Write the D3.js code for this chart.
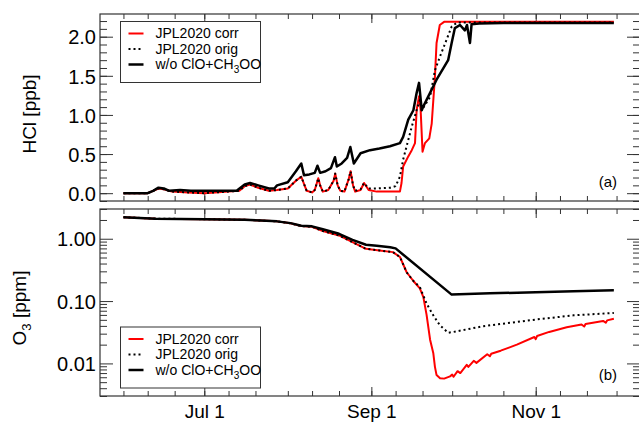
<!DOCTYPE html>
<html>
<head>
<meta charset="utf-8">
<script src="https://cdn.jsdelivr.net/npm/d3@7"></script>
<style>
  body { margin: 0; background: #fff; }
  svg { display: block; font-family: "Liberation Sans", Arial, Helvetica, sans-serif; }
</style>
</head>
<body>
<svg id="chart" width="639" height="422"></svg>
<script>
'use strict';

/* ── data ([month-day, value]) ──────────────────────────────────── */

// panel (a): HCl [ppb]
const hclCorr = [
  ['06-01', 0.00], ['06-10', 0.00], ['06-12', 0.03], ['06-14', 0.06], ['06-16', 0.05],
  ['06-19', 0.02], ['06-25', 0.01], ['07-01', 0.00], ['07-05', 0.01], ['07-10', 0.02],
  ['07-14', 0.03], ['07-16', 0.09], ['07-18', 0.11], ['07-21', 0.07], ['07-25', 0.03],
  ['07-28', 0.04], ['08-01', 0.06], ['08-04', 0.16], ['08-06', 0.21], ['08-07', 0.12],
  ['08-08', 0.03], ['08-10', 0.01], ['08-11', 0.04], ['08-12.3', 0.19], ['08-13', 0.10],
  ['08-14', 0.02], ['08-16', 0.04], ['08-18', 0.16], ['08-18.6', 0.25], ['08-19.5', 0.10],
  ['08-20.5', 0.03], ['08-22', 0.02], ['08-23.6', 0.18], ['08-24.3', 0.28], ['08-25.2', 0.10],
  ['08-26', 0.02], ['08-28', 0.04], ['08-29.3', 0.13], ['08-31', 0.04], ['09-03', 0.02],
  ['09-08', 0.02], ['09-11.6', 0.02], ['09-12.2', 0.13], ['09-12.8', 0.34], ['09-14.7', 0.47],
  ['09-16', 0.55], ['09-17.2', 0.64], ['09-17.8', 1.06], ['09-18.7', 1.24], ['09-19.3', 1.06],
  ['09-20', 0.53], ['09-20.9', 0.64], ['09-22.5', 0.70], ['09-23.4', 0.89], ['09-24.6', 1.49],
  ['09-25.2', 1.92], ['09-26.4', 2.15], ['09-28', 2.19], ['11-30', 2.19],
];
const hclOrig = [
  ['06-01', 0.00], ['06-10', 0.00], ['06-12', 0.03], ['06-14', 0.06], ['06-16', 0.05],
  ['06-19', 0.02], ['06-25', 0.01], ['07-01', 0.00], ['07-05', 0.01], ['07-10', 0.02],
  ['07-14', 0.03], ['07-16', 0.09], ['07-18', 0.11], ['07-21', 0.07], ['07-25', 0.03],
  ['07-28', 0.04], ['08-01', 0.06], ['08-04', 0.16], ['08-06', 0.21], ['08-07', 0.12],
  ['08-08', 0.03], ['08-10', 0.01], ['08-11', 0.04], ['08-12.3', 0.19], ['08-13', 0.10],
  ['08-14', 0.02], ['08-16', 0.04], ['08-18', 0.16], ['08-18.6', 0.25], ['08-19.5', 0.10],
  ['08-20.5', 0.03], ['08-22', 0.02], ['08-23.6', 0.18], ['08-24.3', 0.28], ['08-25.2', 0.10],
  ['08-26', 0.03], ['08-28', 0.05], ['08-29.3', 0.13], ['08-31', 0.06], ['09-03', 0.06],
  ['09-08', 0.07], ['09-10', 0.09], ['09-11.6', 0.21], ['09-12.8', 0.43], ['09-14.7', 0.68],
  ['09-16', 0.85], ['09-17.8', 1.06], ['09-19', 1.19], ['09-19.7', 1.06], ['09-22.8', 1.23],
  ['09-24.6', 1.57], ['09-26.4', 1.74], ['09-28.9', 1.96], ['09-30.8', 2.13], ['10-02.8', 2.18],
  ['11-30', 2.18],
];
const hclNoClO = [
  ['06-01', 0.00], ['06-10', 0.00], ['06-12', 0.03], ['06-14', 0.07], ['06-16', 0.06],
  ['06-18', 0.03], ['06-22', 0.04], ['06-26', 0.03], ['07-01', 0.03], ['07-07', 0.03],
  ['07-13', 0.03], ['07-16', 0.11], ['07-18', 0.13], ['07-21', 0.10], ['07-25', 0.06],
  ['07-27', 0.06], ['07-28', 0.10], ['08-01', 0.14], ['08-04', 0.28], ['08-06', 0.38],
  ['08-07', 0.23], ['08-09', 0.24], ['08-11', 0.26], ['08-12', 0.35], ['08-13', 0.26],
  ['08-15', 0.28], ['08-17', 0.32], ['08-18.5', 0.46], ['08-19.2', 0.34], ['08-21', 0.38],
  ['08-23', 0.45], ['08-24.2', 0.59], ['08-25.5', 0.38], ['08-28', 0.51], ['08-31.5', 0.55],
  ['09-04', 0.57], ['09-07.9', 0.60], ['09-11.6', 0.64], ['09-12.8', 0.72], ['09-14.7', 0.94],
  ['09-16.6', 1.06], ['09-17.8', 1.28], ['09-18.7', 1.41], ['09-19.7', 1.06], ['09-20.3', 1.11],
  ['09-25.2', 1.45], ['09-29.5', 1.70], ['09-30.8', 1.92], ['10-02', 2.11], ['10-03.9', 2.15],
  ['10-05.7', 2.08], ['10-06.5', 2.15], ['10-07.6', 1.92], ['10-08.2', 2.16], ['10-11', 2.17],
  ['10-20', 2.175], ['11-30', 2.175],
];

// panel (b): O3 [ppm]
const o3Corr = [
  ['06-01', 2.22], ['06-13', 2.10], ['07-01', 2.06], ['07-16', 2.01], ['07-22', 1.96],
  ['07-28', 1.90], ['08-02', 1.77], ['08-06', 1.60], ['08-10', 1.55], ['08-14', 1.33],
  ['08-20', 1.13], ['08-25', 0.88], ['08-30', 0.69], ['09-04', 0.65], ['09-09', 0.61],
  ['09-11.6', 0.51], ['09-14.1', 0.29], ['09-16.6', 0.21], ['09-19', 0.16], ['09-20.3', 0.116],
  ['09-21.5', 0.06], ['09-22.8', 0.024], ['09-24', 0.0145], ['09-24.6', 0.0088], ['09-25.2', 0.0065],
  ['09-26.5', 0.0058], ['09-28', 0.0057], ['09-30.2', 0.0062], ['10-01', 0.0066], ['10-01.5', 0.0061],
  ['10-03', 0.0075], ['10-04', 0.0070], ['10-06.4', 0.0095], ['10-07', 0.0088], ['10-09', 0.011],
  ['10-10', 0.0102], ['10-14', 0.0140], ['10-15', 0.0130], ['10-15.5', 0.0143], ['10-19', 0.016],
  ['10-25', 0.020], ['10-31.5', 0.0265], ['11-01', 0.0245], ['11-01.5', 0.0275], ['11-06', 0.032],
  ['11-12.5', 0.038], ['11-18', 0.042], ['11-19', 0.039], ['11-19.5', 0.043], ['11-26', 0.048],
  ['11-27', 0.045], ['11-27.5', 0.049], ['11-30', 0.052],
];
const o3Orig = [
  ['06-01', 2.22], ['06-13', 2.10], ['07-01', 2.06], ['07-16', 2.01], ['07-22', 1.96],
  ['07-28', 1.90], ['08-02', 1.77], ['08-06', 1.60], ['08-10', 1.55], ['08-14', 1.33],
  ['08-20', 1.13], ['08-25', 0.88], ['08-30', 0.69], ['09-04', 0.65], ['09-09', 0.61],
  ['09-11.6', 0.51], ['09-14.1', 0.29], ['09-16.6', 0.21], ['09-19', 0.168], ['09-21.5', 0.091],
  ['09-24', 0.059], ['09-26.4', 0.041], ['09-29.5', 0.031], ['10-01.5', 0.032], ['10-12.5', 0.0395],
  ['11-01', 0.0506], ['11-15', 0.059], ['11-30', 0.0645],
];
const o3NoClO = [
  ['06-01', 2.22], ['06-13', 2.10], ['07-01', 2.06], ['07-16', 2.01], ['07-22', 1.96],
  ['07-28', 1.90], ['08-02', 1.78], ['08-06', 1.62], ['08-10', 1.58], ['08-14', 1.42],
  ['08-20', 1.20], ['08-25', 0.96], ['08-30', 0.80], ['09-03', 0.77], ['09-08', 0.73],
  ['09-10', 0.70], ['09-30.8', 0.127], ['10-15', 0.133], ['11-01', 0.139], ['11-15', 0.144],
  ['11-30', 0.149],
];

const xTickLabels = ['07-01', '09-01', '11-01'];
const hclMajor = [0, 0.5, 1.0, 1.5, 2.0];
const o3Major  = [0.01, 0.1, 1];

/* ── layout ─────────────────────────────────────────────────────── */

const YEAR = 2020;
const X0 = 100, X1 = 640;
const PANEL_A = { top: 14,  bottom: 201 };
const PANEL_B = { top: 209, bottom: 396 };
const FONT = '"Liberation Sans", Arial, Helvetica, sans-serif';

// "MM-DD" with a possibly fractional day -> UTC date
function day(s) {
  const [m, d] = s.split('-').map(Number);
  return new Date(Date.UTC(YEAR, m - 1, 1) + (d - 1) * 864e5);
}

const svg = d3.select('#chart');

const x = d3.scaleUtc().domain([day('05-23.3'), day('12-09.7')]).range([X0, X1]);
const yHcl = d3.scaleLinear().domain([-0.1, 2.29]).range([PANEL_A.bottom, PANEL_A.top]);
const yO3  = d3.scaleLog().domain([0.003, 3]).range([PANEL_B.bottom, PANEL_B.top]);

// ticks on the 1st, 10th and 20th of every month, long + labelled on a few firsts
const dekads = d3.utcDay.range(day('05-23'), day('12-10'))
  .filter(d => [1, 10, 20].includes(d.getUTCDate()));
const xMajor = xTickLabels.map(day);

const hclMinor = d3.range(-1, 23).map(i => i / 10);
const o3Minor = [];
[0.001, 0.01, 0.1, 1].forEach(dec => d3.range(2, 10).forEach(k => {
  const v = k * dec;
  if (v >= 0.003 && v <= 3) o3Minor.push(v);
}));

const SERIES = [
  { label: 'JPL2020 corr', color: '#ff0000', width: 2,   dash: null },
  { label: 'JPL2020 orig', color: '#000',    width: 2,   dash: '2 3' },
  { label: 'w/o ClO+CH',   color: '#000',    width: 2.5, dash: null, sub: '3', tail: 'OO' },
];

function stripAxis(g) {
  g.select('.domain').remove();
  g.selectAll('line').attr('stroke', '#333');
  g.attr('font-family', FONT);
}

function drawPanel(panel, y, major, minor, fmt, showDates, id) {
  const g = svg.append('g');

  // left / right axes, ticks pointing in
  g.append('g').attr('transform', `translate(${X0},0)`)
    .call(d3.axisLeft(y).tickValues(minor).tickSize(-7).tickFormat(''))
    .call(stripAxis);
  g.append('g').attr('transform', `translate(${X0},0)`)
    .call(d3.axisLeft(y).tickValues(major).tickSize(-13).tickPadding(4).tickFormat(fmt))
    .call(stripAxis)
    .attr('font-size', 20).selectAll('text').attr('fill', '#000').attr('dy', '0.36em');
  g.append('g').attr('transform', `translate(${X1},0)`)
    .call(d3.axisRight(y).tickValues(minor).tickSize(-7).tickFormat(''))
    .call(stripAxis);
  g.append('g').attr('transform', `translate(${X1},0)`)
    .call(d3.axisRight(y).tickValues(major).tickSize(-13).tickFormat(''))
    .call(stripAxis);

  // top / bottom date axes
  g.append('g').attr('transform', `translate(0,${panel.top})`)
    .call(d3.axisTop(x).tickValues(dekads).tickSize(-5).tickFormat(''))
    .call(stripAxis);
  g.append('g').attr('transform', `translate(0,${panel.top})`)
    .call(d3.axisTop(x).tickValues(xMajor).tickSize(-9).tickFormat(''))
    .call(stripAxis);
  g.append('g').attr('transform', `translate(0,${panel.bottom})`)
    .call(d3.axisBottom(x).tickValues(dekads).tickSize(-5).tickFormat(''))
    .call(stripAxis);
  g.append('g').attr('transform', `translate(0,${panel.bottom})`)
    .call(d3.axisBottom(x).tickValues(xMajor).tickSize(-9).tickPadding(9)
      .tickFormat(showDates ? d3.utcFormat('%b %-d') : ''))
    .call(stripAxis)
    .attr('font-size', 19).selectAll('text').attr('fill', '#000');

  g.append('rect')
    .attr('x', X0).attr('y', panel.top)
    .attr('width', X1 - X0).attr('height', panel.bottom - panel.top)
    .attr('fill', 'none').attr('stroke', '#333').attr('stroke-width', 1.2);

  svg.append('clipPath').attr('id', id)
    .append('rect')
    .attr('x', X0).attr('y', panel.top)
    .attr('width', X1 - X0).attr('height', panel.bottom - panel.top);
}

function drawLines(data, y, id) {
  const line = d3.line()
    .x(d => x(day(d[0])))
    .y(d => y(d[1]));
  const g = svg.append('g').attr('clip-path', `url(#${id})`);
  data.forEach((values, i) => {
    const s = SERIES[i];
    g.append('path')
      .attr('d', line(values))
      .attr('fill', 'none')
      .attr('stroke', s.color)
      .attr('stroke-width', s.width)
      .attr('stroke-dasharray', s.dash)
      .attr('stroke-linejoin', 'round');
  });
}

function drawLegend(left, top) {
  const g = svg.append('g').attr('font-family', FONT).attr('font-size', 14);
  g.append('rect')
    .attr('x', left).attr('y', top).attr('width', 140).attr('height', 61)
    .attr('fill', '#fff').attr('stroke', '#333').attr('stroke-width', 1);
  SERIES.forEach((s, i) => {
    const cy = top + 12 + i * 15.5;
    g.append('line')
      .attr('x1', left + 8).attr('x2', left + 23).attr('y1', cy).attr('y2', cy)
      .attr('stroke', s.color).attr('stroke-width', s.width).attr('stroke-dasharray', s.dash);
    const t = g.append('text').attr('x', left + 35).attr('y', cy).attr('dy', '0.35em').text(s.label);
    if (s.sub) {
      t.append('tspan').attr('font-size', 10).attr('dy', 4).text(s.sub);
      t.append('tspan').attr('dy', -4).text(s.tail);
    }
  });
}

/* ── panel (a) ──────────────────────────────────────────────────── */
drawPanel(PANEL_A, yHcl, hclMajor, hclMinor, d3.format('.1f'), false, 'clipA');
drawLines([hclCorr, hclOrig, hclNoClO], yHcl, 'clipA');
drawLegend(120.5, 21.5);

/* ── panel (b) ──────────────────────────────────────────────────── */
drawPanel(PANEL_B, yO3, o3Major, o3Minor, d3.format('.2f'), true, 'clipB');
drawLines([o3Corr, o3Orig, o3NoClO], yO3, 'clipB');
drawLegend(120.5, 327);

/* ── titles ─────────────────────────────────────────────────────── */
const titles = svg.append('g').attr('font-family', FONT).attr('fill', '#000');

titles.append('text')
  .attr('transform', 'translate(36,114) rotate(-90)')
  .attr('text-anchor', 'middle').attr('font-size', 19)
  .text('HCl [ppb]');

const o3Title = titles.append('text')
  .attr('transform', 'translate(26,308) rotate(-90)')
  .attr('text-anchor', 'middle').attr('font-size', 19);
o3Title.append('tspan').text('O');
o3Title.append('tspan').attr('font-size', 13).attr('dy', 5).text('3');
o3Title.append('tspan').attr('dy', -5).text(' [ppm]');

titles.append('text').attr('x', 617).attr('y', 187)
  .attr('text-anchor', 'end').attr('font-size', 15).text('(a)');
titles.append('text').attr('x', 617).attr('y', 380)
  .attr('text-anchor', 'end').attr('font-size', 15).text('(b)');
</script>
</body>
</html>
